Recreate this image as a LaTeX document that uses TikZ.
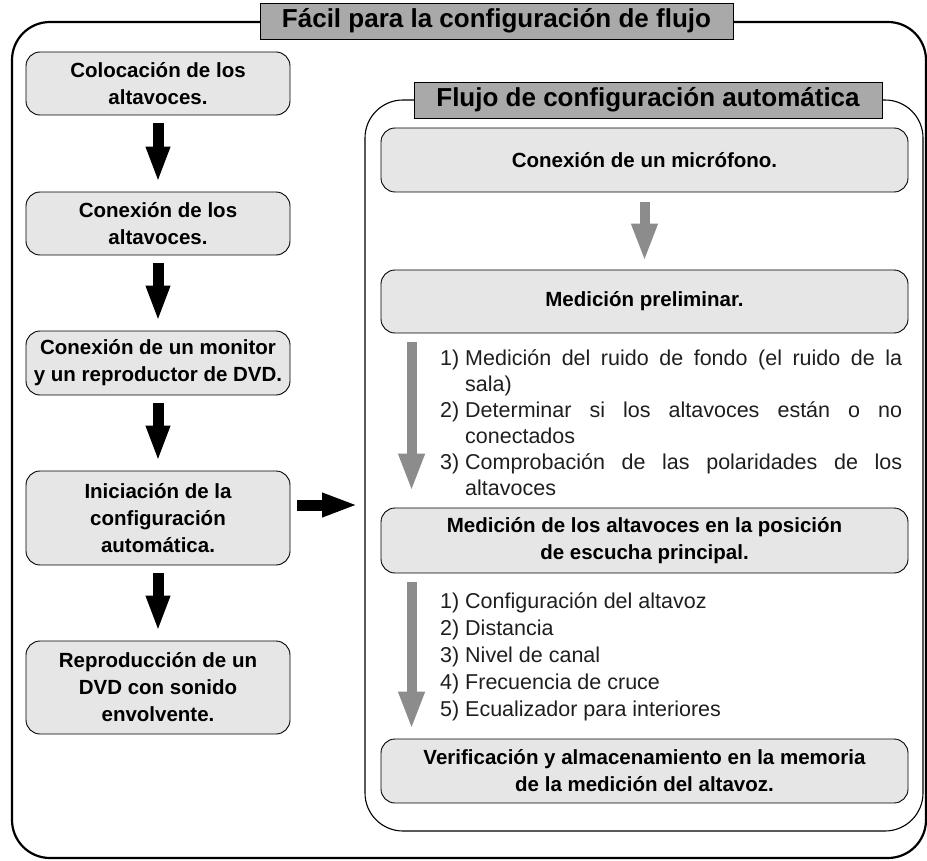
\documentclass[tikz,border=0pt]{standalone}
\usepackage{fontspec}
\setmainfont{Liberation Sans}
\usetikzlibrary{arrows.meta}
\definecolor{boxfill}{HTML}{E6E6E6}
\definecolor{titlefill}{HTML}{A9A9A9}
\definecolor{arrowgray}{HTML}{8C8C8C}
\definecolor{listtext}{HTML}{1E1E1E}
\tikzset{
  stepbox/.style={draw=black, line width=0.9pt, fill=boxfill, rounded corners=14pt,
    align=center, inner sep=0pt, font=\bfseries\fontsize{20.5}{27}\selectfont},
  leftbox/.style={stepbox, minimum width=264pt},
  rightbox/.style={stepbox, minimum width=527pt},
  titlebox/.style={draw=black, line width=0.8pt, fill=titlefill, inner sep=0pt,
    minimum height=36pt, font=\bfseries\fontsize{26}{30}\selectfont},
  outerframe/.style={draw=black, line width=2.2pt, rounded corners=38pt},
  innerframe/.style={draw=black, line width=1.1pt, rounded corners=38pt},
  blackarrow/.style={draw=black, line width=11pt, -{Triangle[width=22pt,length=36pt]},
    shorten <=8pt, shorten >=9pt},
  grayarrow/.style={draw=arrowgray, line width=10pt, -{Triangle[width=24pt,length=38pt]}},
  listline/.style={anchor=base west, inner sep=0pt, text=listtext,
    font=\fontsize{21.5}{26}\selectfont}
}
\begin{document}
\begin{tikzpicture}[x=1pt,y=-1pt]
\useasboundingbox (0,0) rectangle (927,861);
% frames
\draw[outerframe] (12,22) rectangle (926,858);
\draw[innerframe] (365,100) rectangle (923,831);
% titles
\node[titlebox, minimum width=473pt] (t1) at (496.5,21) {Fácil para la configuración de flujo};
\node[titlebox, minimum width=468pt] (t2) at (648,100) {Flujo de configuración automática};
% left column
\node[leftbox, minimum height=63pt] (L1) at (158,83.5) {Colocación de los\\altavoces.};
\node[leftbox, minimum height=63pt] (L2) at (158,223.5) {Conexión de los\\altavoces.};
\node[leftbox, minimum height=64pt] (L3) at (158,363) {Conexión de un monitor\\y un reproductor de DVD.};
\node[leftbox, minimum height=94pt] (L4) at (158,518) {Iniciación de la\\configuración\\automática.};
\node[leftbox, minimum height=93pt] (L5) at (158,687.5) {Reproducción de un\\DVD con sonido\\envolvente.};
\draw[blackarrow] (L1) -- (L2);
\draw[blackarrow] (L2) -- (L3);
\draw[blackarrow] (L3) -- (L4);
\draw[blackarrow] (L4) -- (L5);
\coordinate (arrowend) at (358,505);
\draw[blackarrow, shorten <=7pt, shorten >=0pt] ([yshift=13pt]L4.east) -- (arrowend);
% right column
\node[rightbox, minimum height=64pt] (R1) at (644.5,160) {Conexión de un micrófono.};
\node[rightbox, minimum height=63pt] (R2) at (644.5,301.5) {Medición preliminar.};
\node[rightbox, minimum height=65pt] (R3) at (644.5,540.5) {Medición de los altavoces en la posición\\de escucha principal.};
\node[rightbox, minimum height=64pt] (R4) at (644.5,771) {Verificación y almacenamiento en la memoria\\de la medición del altavoz.};
\draw[grayarrow, shorten <=10pt, shorten >=8pt] (R1) -- (R2);
\draw[grayarrow] ([xshift=31pt,yshift=-9pt]R2.south west) -- ([xshift=31pt,yshift=16pt]R3.north west);
\draw[grayarrow] ([xshift=31pt,yshift=-9pt]R3.south west) -- ([xshift=31pt,yshift=9pt]R4.north west);
% list 1
\node[listline] (n11) at (440,365) {1)};
\node[listline] (l11) at (465,365) {\makebox[437pt][s]{Medición del ruido de fondo (el ruido de la}};
\node[listline] (l12) at (465,391) {sala)};
\node[listline] (n12) at (440,417) {2)};
\node[listline] (l13) at (465,417) {\makebox[437pt][s]{Determinar si los altavoces están o no}};
\node[listline] (l14) at (465,443) {conectados};
\node[listline] (n13) at (440,469) {3)};
\node[listline] (l15) at (465,469) {\makebox[437pt][s]{Comprobación de las polaridades de los}};
\node[listline] (l16) at (465,495) {altavoces};
% list 2
\node[listline] (n21) at (440,608) {1)};
\node[listline] (l21) at (465,608) {Configuración del altavoz};
\node[listline] (n22) at (440,635) {2)};
\node[listline] (l22) at (465,635) {Distancia};
\node[listline] (n23) at (440,662) {3)};
\node[listline] (l23) at (465,662) {Nivel de canal};
\node[listline] (n24) at (440,689) {4)};
\node[listline] (l24) at (465,689) {Frecuencia de cruce};
\node[listline] (n25) at (440,716) {5)};
\node[listline] (l25) at (465,716) {Ecualizador para interiores};
\end{tikzpicture}
\end{document}
